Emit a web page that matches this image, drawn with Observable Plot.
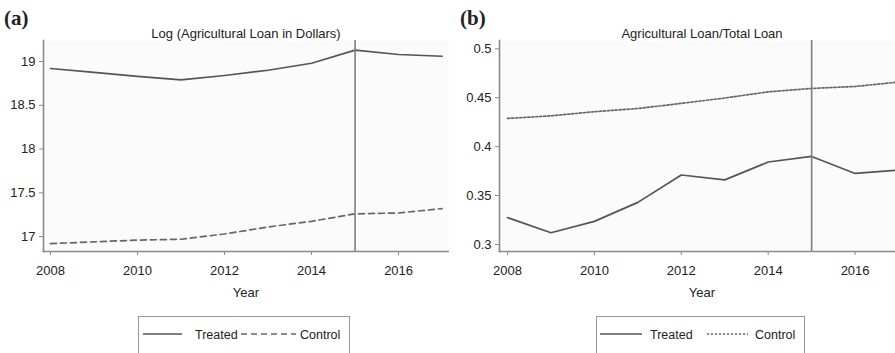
<!DOCTYPE html>
<html>
<head>
<meta charset="utf-8">
<script src="https://cdn.jsdelivr.net/npm/d3@7"></script>
<script src="https://cdn.jsdelivr.net/npm/@observablehq/plot@0.6"></script>
<style>
  html, body { margin: 0; padding: 0; background: #fff; }
  #root { position: relative; width: 895px; height: 353px; overflow: hidden; font-family: "Liberation Sans", Arial, sans-serif; color: #222; }
  .abs { position: absolute; }
  .panel-tag { font-family: "Liberation Serif", "Times New Roman", serif; font-weight: bold; font-size: 21px; line-height: 1; }
  .title { font-size: 13px; white-space: nowrap; transform: translateX(-50%); line-height: 1; }
  .xlabel { font-size: 13px; transform: translateX(-50%); line-height: 1; }
</style>
</head>
<body>
<div id="root"></div>
<script>
// ---- data ----
const years = [2008, 2009, 2010, 2011, 2012, 2013, 2014, 2015, 2016, 2017];
const treatedLog = [18.92, 18.875, 18.83, 18.79, 18.84, 18.90, 18.98, 19.13, 19.08, 19.06];
const controlLog = [16.92, 16.94, 16.96, 16.97, 17.03, 17.11, 17.175, 17.26, 17.27, 17.32];
const treatedShare = [0.3275, 0.312, 0.3236, 0.343, 0.371, 0.366, 0.3843, 0.390, 0.3726, 0.376];
const controlShare = [0.4288, 0.4315, 0.4357, 0.439, 0.4442, 0.4497, 0.456, 0.4595, 0.4615, 0.466];
const treatmentYear = [2015];
const xTicks = [2008, 2010, 2012, 2014, 2016];
const yTicksLog = [17, 17.5, 18, 18.5, 19];
const yTicksShare = [0.3, 0.35, 0.4, 0.45, 0.5];
const titles = ["Log (Agricultural Loan in Dollars)", "Agricultural Loan/Total Loan"];
const tags = ["(a)", "(b)"];
const seriesNames = ["Treated", "Control"];

const root = document.getElementById("root");

function rows(vals) { return years.map((y, i) => ({year: y, value: vals[i]})); }

function panel({left, width, marginLeft, xDomain, yDomain, yTicks, treated, control, controlDash}) {
  const axisColor = "#8a8a8a";
  const p = Plot.plot({
    width, height: 300,
    marginLeft, marginRight: 0, marginTop: 40, marginBottom: 49,
    style: {fontFamily: "'Liberation Sans', Arial, sans-serif", fontSize: "13px", color: "#222", background: "transparent", overflow: "hidden"},
    x: {domain: xDomain},
    y: {domain: yDomain},
    marks: [
      Plot.frame({fill: "#fbfbfb", stroke: null}),
      Plot.line(rows(control), {x: "year", y: "value", stroke: "#666", strokeWidth: 1.7, strokeDasharray: controlDash, clip: true}),
      Plot.line(rows(treated), {x: "year", y: "value", stroke: "#555", strokeWidth: 1.7, clip: true}),
      Plot.ruleX(treatmentYear, {stroke: "#7f7f7f", strokeWidth: 1.6}),
      Plot.frame({anchor: "left", stroke: axisColor, strokeWidth: 1.6}),
      Plot.frame({anchor: "bottom", stroke: axisColor, strokeWidth: 1.6}),
      Plot.axisX({ticks: xTicks, tickFormat: d => String(d), tickSize: 4, tickPadding: 10, stroke: axisColor, label: null, fill: "#222"}),
      Plot.axisY({ticks: yTicks, tickFormat: d => String(d), tickSize: 4, tickPadding: 4, stroke: axisColor, label: null, fill: "#222"})
    ]
  });
  p.style.position = "absolute";
  p.style.left = left + "px";
  p.style.top = "0px";
  root.appendChild(p);
}

panel({left: 0, width: 449, marginLeft: 43, xDomain: [2007.84, 2017.17], yDomain: [16.83, 19.24],
  yTicks: yTicksLog, treated: treatedLog, control: controlLog, controlDash: "6,4"});
panel({left: 450, width: 445, marginLeft: 49, xDomain: [2007.816, 2016.93], yDomain: [0.2928, 0.5085],
  yTicks: yTicksShare, treated: treatedShare, control: controlShare, controlDash: "2.2,1.8"});

function addDiv(cls, text, left, top) {
  const d = document.createElement("div");
  d.className = "abs " + cls;
  d.textContent = text;
  d.style.left = left + "px";
  d.style.top = top + "px";
  root.appendChild(d);
}
addDiv("panel-tag", tags[0], 4, 8);
addDiv("panel-tag", tags[1], 460, 8);
addDiv("title", titles[0], 246, 27);
addDiv("title", titles[1], 702, 27);
addDiv("xlabel", "Year", 246, 286);
addDiv("xlabel", "Year", 702, 286);

function legend(left, width, parts) {
  const ns = "http://www.w3.org/2000/svg";
  const svg = document.createElementNS(ns, "svg");
  svg.setAttribute("width", width);
  svg.setAttribute("height", 40);
  svg.style.position = "absolute";
  svg.style.left = left + "px";
  svg.style.top = "316px";
  const rect = document.createElementNS(ns, "rect");
  rect.setAttribute("x", 0.5); rect.setAttribute("y", 0.5);
  rect.setAttribute("width", width - 1); rect.setAttribute("height", 50);
  rect.setAttribute("fill", "#fff"); rect.setAttribute("stroke", "#999");
  svg.appendChild(rect);
  parts.forEach(pt => {
    const l = document.createElementNS(ns, "line");
    l.setAttribute("x1", pt.x1); l.setAttribute("x2", pt.x2);
    l.setAttribute("y1", 18); l.setAttribute("y2", 18);
    l.setAttribute("stroke", pt.color); l.setAttribute("stroke-width", 1.7);
    if (pt.dash) l.setAttribute("stroke-dasharray", pt.dash);
    svg.appendChild(l);
    const t = document.createElementNS(ns, "text");
    t.setAttribute("x", pt.tx); t.setAttribute("y", 23);
    t.setAttribute("font-size", "12.5");
    t.setAttribute("font-family", "'Liberation Sans', Arial, sans-serif");
    t.setAttribute("fill", "#222");
    t.textContent = pt.label;
    svg.appendChild(t);
  });
  root.appendChild(svg);
}
legend(138, 212, [
  {x1: 5, x2: 44, color: "#555", tx: 57, label: seriesNames[0]},
  {x1: 103, x2: 158, color: "#666", dash: "6,4", tx: 162, label: seriesNames[1]}
]);
legend(596, 209, [
  {x1: 4, x2: 46, color: "#555", tx: 54, label: seriesNames[0]},
  {x1: 111, x2: 152, color: "#666", dash: "2.2,1.8", tx: 159, label: seriesNames[1]}
]);
</script>
</body>
</html>
